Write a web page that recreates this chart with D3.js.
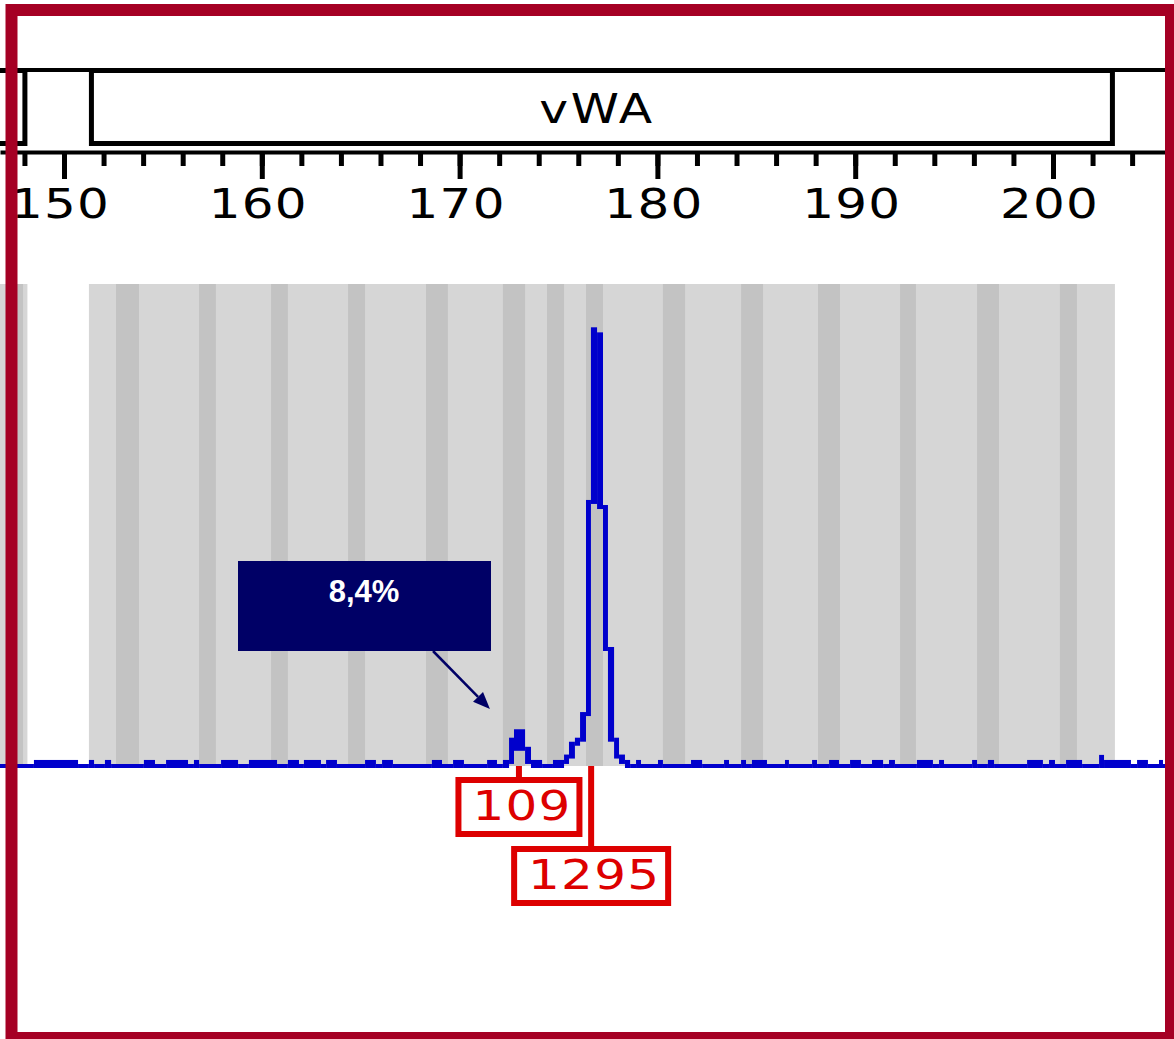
<!DOCTYPE html>
<html>
<head>
<meta charset="utf-8">
<script src="https://cdn.jsdelivr.net/npm/d3@7"></script>
<style>
  body { margin: 0; background: #fff; }
  svg { display: block; }
</style>
</head>
<body>
<div id="chart"></div>
<script>
// canvas
var svgWidth = 1174;
var svgHeight = 1039;

// loci (marker boxes and their grey panels), in bp
var lociNames = ["", "vWA"];
var lociStart = [140.0, 151.26];
var lociEnd = [148.15, 203.13];

// allele bins (darker stripes), in bp
var binStart = [147.2, 152.63, 156.83, 160.47, 164.36, 168.30, 172.19, 174.42, 176.39, 180.28, 184.23, 188.12, 192.27, 196.16, 200.35];
var binEnd   = [147.93, 153.79, 157.68, 161.32, 165.22, 169.41, 173.31, 175.28, 177.25, 181.40, 185.34, 189.23, 193.07, 197.27, 201.21];

// size axis
var majorTicks = [150, 160, 170, 180, 190, 200];
var minorTicks = [146, 148, 150, 152, 154, 156, 158, 160, 162, 164, 166, 168, 170, 172, 174, 176, 178,
                  180, 182, 184, 186, 188, 190, 192, 194, 196, 198, 200, 202, 204, 206];

// electropherogram trace: each level starts at traceBp[i] (bp) with height traceRfu[i] (RFU)
var traceBp = [146.7, 148.48, 150.71, 151.26, 151.52, 152.07, 152.38, 154.04, 154.60, 155.16,
               156.27, 156.57, 156.83, 157.94, 158.80, 159.35, 160.77, 161.32, 161.88, 162.13,
               162.99, 163.25, 163.80, 165.22, 165.77, 166.08, 166.63, 168.60, 169.11, 169.67,
               170.22, 171.39, 171.89, 172.19, 172.50, 172.75, 173.31, 173.61, 174.17, 174.72,
               175.28, 175.53, 175.83, 176.09, 176.39, 176.64, 176.95, 177.25, 177.50, 177.81,
               178.06, 178.36, 178.62, 178.92, 179.17, 180.03, 180.28, 181.70, 182.26, 183.37,
               183.62, 184.23, 184.48, 184.78, 185.54, 186.45, 186.65, 187.82, 188.07, 188.68,
               189.18, 189.74, 190.29, 190.85, 191.41, 191.71, 192.01, 193.12, 193.93, 194.24,
               194.49, 195.91, 196.16, 196.71, 197.02, 198.69, 199.49, 199.80, 200.10, 200.66,
               201.47, 202.33, 202.58, 203.94, 204.25, 204.80, 205.36, 205.56, 206.2];
var traceRfu = [0, 12, 0, 12, 0, 12, 0, 12, 0, 12,
                0, 12, 0, 12, 0, 12, 0, 12, 0, 12,
                0, 12, 0, 12, 0, 12, 0, 12, 0, 12,
                0, 12, 0, 12, 78, 103, 51, 12, 0, 12,
                28, 66, 78, 154, 783, 1295, 1280, 768, 347, 78,
                28, 12, 0, 12, 0, 12, 0, 12, 0, 12,
                0, 12, 0, 12, 0, 12, 0, 12, 0, 12,
                0, 12, 0, 12, 0, 12, 0, 12, 0, 12,
                0, 12, 0, 12, 0, 12, 0, 12, 0, 12,
                0, 27, 12, 0, 12, 0, 12, 0, 0];

// called peaks (size in bp, height in RFU)
var peakBp = [173.0, 176.65];
var peakRfu = [109, 1295];

var frameColor = "#a50024";
var labelRed = "#dd0000";
var traceBlue = "#0000cc";
var navy = "#000066";
var pixFont = "'DejaVu Sans', sans-serif";
var pixStretch = 1.22; // the original bitmap font is wide

var svg = d3.select("#chart")
    .append("svg")
    .attr("width", svgWidth)
    .attr("height", svgHeight);

svg.append("rect")
    .attr("width", svgWidth)
    .attr("height", svgHeight)
    .attr("fill", "#fff");

// x: bp -> px, 150 bp at 64px and 200 bp at 1053px, stretched across the page
var x = d3.scaleLinear().domain([150, 200]).range([64, 1053]);
x.domain([x.invert(0), x.invert(svgWidth)]).range([0, svgWidth]);

// y: RFU -> px
var y = d3.scaleLinear().domain([0, 1295]).range([766, 329.3]);

var panelTop = 284;

// wide "bitmap" text helper
function pixText(sel, size, spacing) {
    return sel
        .attr("text-anchor", "middle")
        .attr("font-family", pixFont)
        .attr("font-size", size)
        .attr("letter-spacing", spacing);
}

// grey panels
svg.selectAll(".panel")
    .data(lociStart)
    .enter()
    .append("rect")
    .attr("class", "panel")
    .attr("x", (d, i) => x(d))
    .attr("width", (d, i) => x(lociEnd[i]) - x(d))
    .attr("y", panelTop)
    .attr("height", y(0) - panelTop)
    .attr("fill", "#d6d6d6");

// allele bins
svg.selectAll(".bin")
    .data(binStart)
    .enter()
    .append("rect")
    .attr("class", "bin")
    .attr("x", d => x(d))
    .attr("width", (d, i) => x(binEnd[i]) - x(d))
    .attr("y", panelTop)
    .attr("height", y(0) - panelTop)
    .attr("fill", "#c3c3c3");

// marker bar: top rule and locus boxes
svg.append("line")
    .attr("x1", 0).attr("x2", svgWidth)
    .attr("y1", 70).attr("y2", 70)
    .attr("stroke", "#000")
    .attr("stroke-width", 4);

var boxes = svg.selectAll(".locus")
    .data(lociNames)
    .enter()
    .append("g")
    .attr("class", "locus");

boxes.append("rect")
    .attr("x", (d, i) => x(lociStart[i]) + 2.5)
    .attr("width", (d, i) => x(lociEnd[i]) - x(lociStart[i]) - 5)
    .attr("y", 70.5)
    .attr("height", 73)
    .attr("fill", "#fff")
    .attr("stroke", "#000")
    .attr("stroke-width", 5);

boxes.append("text")
    .call(pixText, 40, 2)
    .attr("transform", (d, i) => `translate(${(x(lociStart[i]) + x(lociEnd[i])) / 2 - 5},123) scale(${pixStretch},1)`)
    .attr("fill", "#000")
    .text(d => d);

// size axis
var axisG = svg.append("g").attr("transform", "translate(0,152)");

var minorAxis = d3.axisBottom(x).tickValues(minorTicks).tickSize(14).tickSizeOuter(0).tickFormat("");
var majorAxis = d3.axisBottom(x).tickValues(majorTicks).tickSize(27).tickSizeOuter(0);

var minorG = axisG.append("g").call(minorAxis);
var majorG = axisG.append("g").call(majorAxis);

minorG.select(".domain").attr("stroke", "#000").attr("stroke-width", 4);
majorG.select(".domain").remove();
axisG.selectAll(".tick line").attr("stroke", "#000").attr("stroke-width", 5);
majorG.attr("font-size", null).attr("font-family", null);
majorG.selectAll(".tick text")
    .attr("y", null)
    .attr("dy", null)
    .call(pixText, 41, 1)
    .attr("transform", `translate(-4,66) scale(${pixStretch},1)`)
    .attr("fill", "#000");

// trace, drawn column by column like the original bitmap
var n = traceBp.length;
var segs = d3.range(n - 1).map(function (i) {
    var yi = y(traceRfu[i]);
    var yPrev = i > 0 ? y(traceRfu[i - 1]) : yi;
    var yNext = y(traceRfu[i + 1]);
    return {
        x0: x(traceBp[i]),
        x1: x(traceBp[i + 1]),
        top: yi - 2,
        bottom: Math.max(yi, yPrev, yNext) + 2
    };
});

svg.append("g")
    .selectAll("rect")
    .data(segs)
    .enter()
    .append("rect")
    .attr("x", d => d.x0)
    .attr("width", d => d.x1 - d.x0)
    .attr("y", d => d.top)
    .attr("height", d => d.bottom - d.top)
    .attr("fill", traceBlue);

// peak labels
var labelTops = [777, 846];
var labels = svg.selectAll(".peaklabel")
    .data(peakRfu)
    .enter()
    .append("g")
    .attr("class", "peaklabel");

labels.append("line")
    .attr("x1", (d, i) => x(peakBp[i]))
    .attr("x2", (d, i) => x(peakBp[i]))
    .attr("y1", y(0))
    .attr("y2", (d, i) => labelTops[i] + 3)
    .attr("stroke", labelRed)
    .attr("stroke-width", 6);

labels.append("rect")
    .attr("x", (d, i) => x(peakBp[i]) - (33 * String(d).length + 28) / 2 + 3)
    .attr("width", d => 33 * String(d).length + 28 - 6)
    .attr("y", (d, i) => labelTops[i] + 3)
    .attr("height", 54)
    .attr("fill", "#fff")
    .attr("stroke", labelRed)
    .attr("stroke-width", 6);

labels.append("text")
    .call(pixText, 41, 1)
    .attr("transform", (d, i) => `translate(${x(peakBp[i]) + 3},${labelTops[i] + 43}) scale(${pixStretch},1)`)
    .attr("fill", labelRed)
    .text(d => d);

// ratio callout
var ratioText = (peakRfu[0] / peakRfu[1] * 100).toFixed(1).replace(".", ",") + "%";
var callout = svg.append("g");

callout.append("rect")
    .attr("x", 238).attr("y", 561)
    .attr("width", 253).attr("height", 90)
    .attr("fill", navy);

callout.append("text")
    .attr("x", 364).attr("y", 602)
    .attr("text-anchor", "middle")
    .attr("font-family", "'Liberation Sans', Arial, sans-serif")
    .attr("font-weight", "bold")
    .attr("font-size", 31)
    .attr("fill", "#fff")
    .text(ratioText);

var tipX = x(peakBp[0]) - 29, tipY = 709;
var fromX = 433, fromY = 651;
var ang = Math.atan2(tipY - fromY, tipX - fromX);
var headLen = 17, headHalf = 7;
var bx = tipX - headLen * Math.cos(ang), by = tipY - headLen * Math.sin(ang);

callout.append("line")
    .attr("x1", fromX).attr("y1", fromY)
    .attr("x2", bx).attr("y2", by)
    .attr("stroke", navy)
    .attr("stroke-width", 2.5);

callout.append("polygon")
    .attr("points", [
        [tipX, tipY],
        [bx + headHalf * Math.sin(ang), by - headHalf * Math.cos(ang)],
        [bx - headHalf * Math.sin(ang), by + headHalf * Math.cos(ang)]
    ].map(p => p.join(",")).join(" "))
    .attr("fill", navy);

// outer frame
svg.append("rect")
    .attr("x", 11.5).attr("y", 10)
    .attr("width", 1159.5).attr("height", 1028)
    .attr("fill", "none")
    .attr("stroke", frameColor)
    .attr("stroke-width", 12);
</script>
</body>
</html>
